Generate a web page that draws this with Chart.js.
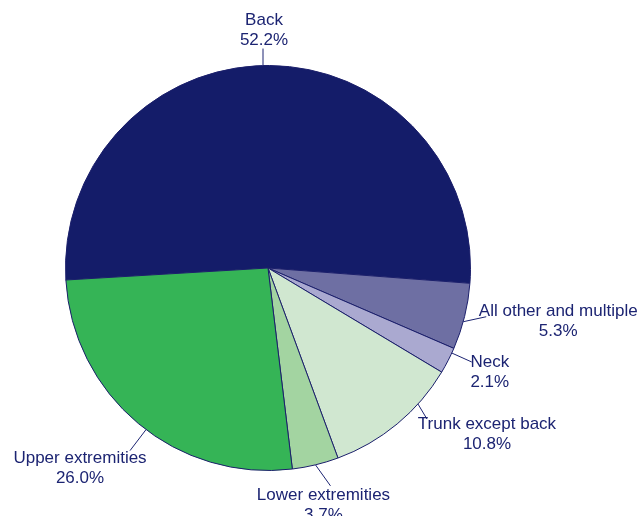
<!DOCTYPE html>
<html>
<head>
<meta charset="utf-8">
<script src="https://cdn.jsdelivr.net/npm/chart.js@4/dist/chart.umd.min.js"></script>
<style>
  html, body { margin: 0; padding: 0; background: #fff; }
  #wrap { width: 641px; height: 516px; }
</style>
</head>
<body>
<div id="wrap"><canvas id="pieChart" width="641" height="516"></canvas></div>
<script>
const categories = ['Back', 'All other and multiple', 'Neck', 'Trunk except back', 'Lower extremities', 'Upper extremities'];
const percents = [52.2, 5.3, 2.1, 10.8, 3.7, 26.0];
const sliceColors = ['#141c69', '#6e6fa3', '#aaa9d0', '#d0e7d0', '#a3d4a1', '#35b456'];

// where each leader line leaves the slice (fraction of the arc) and where its text sits
const labelSpots = [
  { frac: 0.49, lx: 0, ly: -17, tx: 1, ty: -35 },
  { frac: 0.58, lx: 23, ly: -5, tx: 95, ty: 0 },
  { frac: 0.19, lx: 20, ly: 9, tx: 38, ty: 19 },
  { frac: 0.29, lx: 9, ly: 15, tx: 69, ty: 30 },
  { frac: 0.5, lx: 15, ly: 21, tx: 8, ty: 40 },
  { frac: 0.47, lx: -16, ly: 21, tx: -66, ty: 39 }
];

const textColor = '#1c2472';

const sliceLabels = {
  id: 'sliceLabels',
  afterDatasetsDraw(chart) {
    const ctx = chart.ctx;
    const meta = chart.getDatasetMeta(0);
    ctx.save();
    ctx.font = '17px "Liberation Sans", Arial, sans-serif';
    ctx.fillStyle = textColor;
    ctx.strokeStyle = '#1c2472';
    ctx.lineWidth = 1;
    ctx.textAlign = 'center';
    ctx.textBaseline = 'middle';
    meta.data.forEach(function (arc, i) {
      const p = arc.getProps(['x', 'y', 'startAngle', 'endAngle', 'outerRadius'], true);
      const spot = labelSpots[i];
      const a = p.startAngle + spot.frac * (p.endAngle - p.startAngle);
      const sx = p.x + Math.cos(a) * p.outerRadius;
      const sy = p.y + Math.sin(a) * p.outerRadius;
      ctx.beginPath();
      ctx.moveTo(sx, sy);
      ctx.lineTo(sx + spot.lx, sy + spot.ly);
      ctx.stroke();
      const cx = sx + spot.tx;
      const cy = sy + spot.ty;
      ctx.fillText(categories[i], cx, cy - 10);
      ctx.fillText(percents[i].toFixed(1) + '%', cx, cy + 10);
    });
    ctx.restore();
  }
};

new Chart(document.getElementById('pieChart'), {
  type: 'pie',
  data: {
    labels: categories,
    datasets: [{
      data: percents,
      backgroundColor: sliceColors,
      borderColor: '#1b1f6b',
      borderWidth: 1,
      hoverOffset: 0
    }]
  },
  options: {
    responsive: false,
    animation: false,
    rotation: -93.4,
    layout: { padding: { left: 65, right: 170, top: 65, bottom: 45 } },
    plugins: {
      legend: { display: false },
      tooltip: { enabled: false }
    }
  },
  plugins: [sliceLabels]
});
</script>
</body>
</html>
